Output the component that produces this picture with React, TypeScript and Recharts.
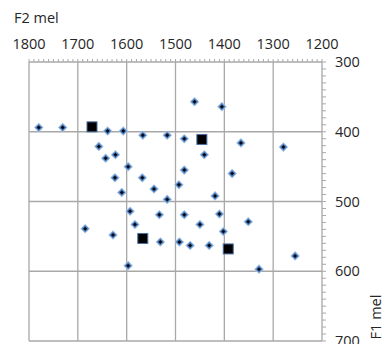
import { ScatterChart, Scatter, XAxis, YAxis, ReferenceLine } from "recharts";

// vowel tokens (F2, F1 in mel)
const tokenF2 = [
  1780, 1731, 1639, 1607, 1567, 1517, 1482, 1657, 1643, 1623, 1597, 1624, 1568, 1544,
  1610, 1517, 1493, 1482, 1461, 1405, 1366, 1279, 1441, 1384, 1419, 1593, 1533, 1482,
  1685, 1583, 1628, 1531, 1492, 1470, 1450, 1597, 1410, 1351, 1402, 1431, 1255, 1329,
];
const tokenF1 = [
  394, 394, 399, 399, 405, 405, 410, 421, 438, 433, 450, 466, 466, 482,
  487, 497, 476, 455, 357, 364, 416, 422, 433, 460, 492, 514, 519, 519,
  539, 533, 548, 558, 558, 563, 533, 592, 518, 529, 543, 563, 578, 597,
];

// category means
const meanF2 = [1671, 1446, 1567, 1392];
const meanF1 = [393, 411, 553, 568];

const F2_MAJOR = [1200, 1300, 1400, 1500, 1600, 1700, 1800];
const F1_MAJOR = [300, 400, 500, 600, 700];
const F2_MINOR = Array.from({ length: 61 }, (_, i) => 1200 + i * 10);
const F1_MINOR = Array.from({ length: 41 }, (_, i) => 300 + i * 10);

const tokens = tokenF2.map((f2, i) => ({ f2, f1: tokenF1[i] }));
const means = meanF2.map((f2, i) => ({ f2, f1: meanF1[i] }));

const FONT = "'Open Sans', sans-serif";
const TEXT = "#262626";
const GRID = "#a8a8a8";

function TopTick({ x, y, payload }: any) {
  if (payload.value % 100 !== 0) return <g />;
  return (
    <text x={x} y={y} textAnchor="middle" fontSize={14.5} fontFamily={FONT} fill={TEXT}>
      {payload.value}
    </text>
  );
}

function RightTick({ x, y, payload }: any) {
  if (payload.value % 100 !== 0) return <g />;
  return (
    <text x={x} y={y} dy="0.35em" textAnchor="start" fontSize={14.5} fontFamily={FONT} fill={TEXT}>
      {payload.value}
    </text>
  );
}

function F2Title({ viewBox }: any) {
  return (
    <text x={viewBox.x - 15} y={viewBox.y + 23} fontSize={14.5} fontFamily={FONT} fill={TEXT}>
      F2 mel
    </text>
  );
}

function F1Title({ viewBox }: any) {
  const x = viewBox.x + 59;
  const y = viewBox.y + viewBox.height - 24;
  return (
    <text
      x={x}
      y={y}
      textAnchor="middle"
      transform={`rotate(-90, ${x}, ${y})`}
      fontSize={14.5}
      fontFamily={FONT}
      fill={TEXT}
    >
      F1 mel
    </text>
  );
}

function Diamond({ cx, cy }: any) {
  const d = (r: number) => `M${cx},${cy - r} L${cx + r},${cy} L${cx},${cy + r} L${cx - r},${cy} Z`;
  return (
    <g>
      <path d={d(4.8)} fill="#9dbfe8" />
      <path d={d(3.6)} fill="#4f81bd" />
      <path d={d(2)} fill="#050510" />
    </g>
  );
}

function MeanSquare({ cx, cy }: any) {
  return <rect x={cx - 5} y={cy - 5} width={10} height={10} fill="#000" stroke="#4a6fa5" strokeWidth={1} />;
}

export default function App() {
  return (
    <div style={{ position: "absolute", left: 0, top: 0 }}>
      <ScatterChart width={382} height={344} margin={{ top: 0, right: 0, bottom: 3, left: 29 }}>
        <XAxis
          xAxisId="f2"
          orientation="top"
          type="number"
          dataKey="f2"
          domain={[1200, 1800]}
          reversed
          ticks={F2_MINOR}
          interval={0}
          tickSize={3}
          tickMargin={10}
          height={62}
          tick={<TopTick />}
          tickLine={{ stroke: GRID }}
          axisLine={{ stroke: GRID, strokeWidth: 1.3 }}
          label={<F2Title />}
        />
        <YAxis
          yAxisId="f1"
          orientation="right"
          type="number"
          dataKey="f1"
          domain={[300, 700]}
          reversed
          ticks={F1_MINOR}
          interval={0}
          tickSize={4}
          tickMargin={9}
          width={60}
          tick={<RightTick />}
          tickLine={{ stroke: GRID }}
          axisLine={{ stroke: GRID, strokeWidth: 1.3 }}
          label={<F1Title />}
        />
        {F2_MAJOR.filter((v) => v !== 1200).map((v) => (
          <ReferenceLine key={`x${v}`} xAxisId="f2" yAxisId="f1" x={v} stroke={GRID} strokeWidth={1.3} />
        ))}
        {F1_MAJOR.filter((v) => v !== 300).map((v) => (
          <ReferenceLine key={`y${v}`} xAxisId="f2" yAxisId="f1" y={v} stroke={GRID} strokeWidth={1.3} />
        ))}
        <Scatter
          xAxisId="f2"
          yAxisId="f1"
          data={tokens}
          shape={(p: any) => <Diamond cx={p.cx} cy={p.cy} />}
          isAnimationActive={false}
        />
        <Scatter
          xAxisId="f2"
          yAxisId="f1"
          data={means}
          shape={(p: any) => <MeanSquare cx={p.cx} cy={p.cy} />}
          isAnimationActive={false}
        />
      </ScatterChart>
    </div>
  );
}
